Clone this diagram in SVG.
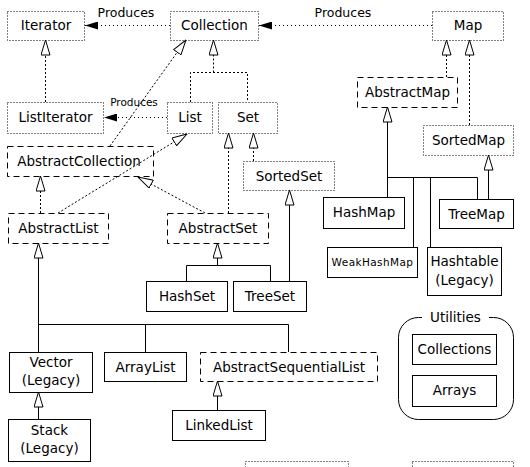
<svg xmlns="http://www.w3.org/2000/svg" width="530" height="467" viewBox="0 0 530 467">
<style>
  text { font-family: "DejaVu Sans", "Liberation Sans", sans-serif; font-size: 13.5px; fill: #000; text-anchor: middle; }
  text.lbl { font-size: 12.5px; }
  text.sm { font-size: 10.5px; }
  text.wk { letter-spacing: 0.4px; }
  rect.n { fill: none; stroke: #000; stroke-width: 1; }
  rect.dot { stroke-dasharray: 1 2; }
  rect.dash { stroke-dasharray: 6 4; }
  .c { fill: none; stroke: #000; stroke-width: 1; }
  .cd { stroke-dasharray: 2 2; }
  .cp { stroke-dasharray: 1 3; }
</style>
<defs>
  <marker id="tri" viewBox="0 0 16 10" refX="15.5" refY="5" markerUnits="userSpaceOnUse" markerWidth="16" markerHeight="10" orient="auto">
    <path d="M0.5,0.5 L15.5,5 L0.5,9.5 Z" fill="#fff" stroke="#000" stroke-width="1"/>
  </marker>
  <marker id="fill" viewBox="0 0 13 8" refX="13" refY="4" markerUnits="userSpaceOnUse" markerWidth="13" markerHeight="8" orient="auto">
    <path d="M0,0 L13,4 L0,8 Z" fill="#000"/>
  </marker>
</defs>
<rect width="530" height="467" fill="#fff"/>

<g id="connectors">
  <!-- Produces -->
  <line class="c cp" x1="170" y1="25.5" x2="85" y2="25.5" marker-end="url(#fill)"/>
  <line class="c cp" x1="432" y1="25.5" x2="259" y2="25.5" marker-end="url(#fill)"/>
  <line class="c cp" x1="167" y1="117.5" x2="104" y2="117.5" marker-end="url(#fill)"/>
  <!-- interfaces -->
  <line class="c cd" x1="45.5" y1="102" x2="45.5" y2="40" marker-end="url(#tri)"/>
  <polyline class="c cd" points="190.5,102 190.5,72.5 247.5,72.5 247.5,102"/>
  <line class="c cd" x1="213.5" y1="72.5" x2="213.5" y2="40" marker-end="url(#tri)"/>
  <line class="c cd" x1="110" y1="146" x2="186" y2="40" marker-end="url(#tri)"/>
  <line class="c cd" x1="58" y1="213" x2="187" y2="134" marker-end="url(#tri)"/>
  <line class="c cd" x1="40.5" y1="213" x2="40.5" y2="176" marker-end="url(#tri)"/>
  <line class="c cd" x1="205" y1="213" x2="138" y2="177" marker-end="url(#tri)"/>
  <line class="c cd" x1="228.5" y1="213" x2="228.5" y2="133" marker-end="url(#tri)"/>
  <line class="c cd" x1="253.5" y1="161" x2="253.5" y2="133" marker-end="url(#tri)"/>
  <line class="c cd" x1="446.5" y1="77" x2="446.5" y2="40" marker-end="url(#tri)"/>
  <line class="c cd" x1="469.5" y1="125" x2="469.5" y2="40" marker-end="url(#tri)"/>
  <!-- solid -->
  <polyline class="c" points="186.5,281 186.5,265.5 270.5,265.5 270.5,281"/>
  <line class="c" x1="217.5" y1="265.5" x2="217.5" y2="243" marker-end="url(#tri)"/>
  <line class="c" x1="289.5" y1="281" x2="289.5" y2="190" marker-end="url(#tri)"/>
  <line class="c" x1="387.5" y1="197" x2="387.5" y2="107" marker-end="url(#tri)"/>
  <line class="c" x1="387.5" y1="177.5" x2="477.5" y2="177.5"/>
  <line class="c" x1="413.5" y1="177.5" x2="413.5" y2="247"/>
  <line class="c" x1="430.5" y1="177.5" x2="430.5" y2="247"/>
  <line class="c" x1="477.5" y1="177.5" x2="477.5" y2="199"/>
  <line class="c" x1="488.5" y1="199" x2="488.5" y2="155" marker-end="url(#tri)"/>
  <line class="c" x1="38.5" y1="352" x2="38.5" y2="243" marker-end="url(#tri)"/>
  <line class="c" x1="38.5" y1="324.5" x2="288.5" y2="324.5"/>
  <line class="c" x1="145.5" y1="324.5" x2="145.5" y2="352"/>
  <line class="c" x1="288.5" y1="324.5" x2="288.5" y2="352"/>
  <line class="c" x1="38.5" y1="419" x2="38.5" y2="392" marker-end="url(#tri)"/>
  <line class="c" x1="217.5" y1="410" x2="217.5" y2="381" marker-end="url(#tri)"/>
</g>

<g id="labels">
  <text class="lbl" x="126" y="16.5">Produces</text>
  <text class="lbl" x="343" y="16.5">Produces</text>
  <text class="sm" x="134" y="106">Produces</text>
</g>

<g id="Iterator"><rect class="n dot" x="7.5" y="11.5" width="77" height="29"/><text x="46" y="30">Iterator</text></g>
<g id="Collection"><rect class="n dot" x="170.5" y="11.5" width="88" height="29"/><text x="214.5" y="30">Collection</text></g>
<g id="Map"><rect class="n dot" x="432.5" y="11.5" width="71" height="29"/><text x="468" y="30">Map</text></g>
<g id="ListIterator"><rect class="n dot" x="7.5" y="102.5" width="96" height="31"/><text x="55.5" y="122">ListIterator</text></g>
<g id="List"><rect class="n dot" x="167.5" y="102.5" width="45" height="31"/><text x="190" y="122">List</text></g>
<g id="Set"><rect class="n dot" x="218.5" y="102.5" width="59" height="31"/><text x="248" y="122">Set</text></g>
<g id="AbstractMap"><rect class="n dash" x="357.5" y="77.5" width="100" height="30"/><text x="407.5" y="97">AbstractMap</text></g>
<g id="SortedMap"><rect class="n dot" x="423.5" y="125.5" width="90" height="30"/><text x="468.5" y="145">SortedMap</text></g>
<g id="AbstractCollection"><rect class="n dash" x="7.5" y="146.5" width="146" height="30"/><text x="79" y="166">AbstractCollection</text></g>
<g id="SortedSet"><rect class="n dot" x="243.5" y="161.5" width="91" height="29"/><text x="289" y="180.5">SortedSet</text></g>
<g id="AbstractList"><rect class="n dash" x="8.5" y="213.5" width="100" height="30"/><text x="58.5" y="233">AbstractList</text></g>
<g id="AbstractSet"><rect class="n dash" x="167.5" y="213.5" width="101" height="30"/><text x="218" y="233">AbstractSet</text></g>
<g id="HashMap"><rect class="n" x="323.5" y="197.5" width="81" height="31"/><text x="364" y="217">HashMap</text></g>
<g id="TreeMap"><rect class="n" x="439.5" y="199.5" width="74" height="29"/><text x="476.5" y="218.5">TreeMap</text></g>
<g id="WeakHashMap"><rect class="n" x="327.5" y="247.5" width="90" height="30"/><text class="sm wk" x="372.5" y="266">WeakHashMap</text></g>
<g id="Hashtable"><rect class="n" x="427.5" y="247.5" width="74" height="48"/><text x="464.5" y="266">Hashtable</text><text x="464.5" y="284.5">(Legacy)</text></g>
<g id="HashSet"><rect class="n" x="146.5" y="281.5" width="81" height="30"/><text x="187" y="301">HashSet</text></g>
<g id="TreeSet"><rect class="n" x="233.5" y="281.5" width="73" height="30"/><text x="270" y="301">TreeSet</text></g>
<g id="Vector"><rect class="n" x="9.5" y="352.5" width="83" height="40"/><text x="51" y="367">Vector</text><text x="51" y="385">(Legacy)</text></g>
<g id="ArrayList"><rect class="n" x="104.5" y="352.5" width="82" height="29"/><text x="145.5" y="371.5">ArrayList</text></g>
<g id="AbstractSequentialList"><rect class="n dash" x="200.5" y="352.5" width="177" height="29"/><text x="289" y="371.5">AbstractSequentialList</text></g>
<g id="Stack"><rect class="n" x="8.5" y="419.5" width="82" height="42"/><text x="49.5" y="435">Stack</text><text x="49.5" y="453">(Legacy)</text></g>
<g id="LinkedList"><rect class="n" x="172.5" y="410.5" width="93" height="30"/><text x="219" y="430">LinkedList</text></g>
<g id="Utilities">
  <rect x="398.5" y="317.5" width="115" height="102" rx="20" ry="20" fill="#fff" stroke="#000"/>
  <rect x="422" y="312" width="67" height="12" fill="#fff"/>
  <text x="455.5" y="322">Utilities</text>
</g>
<g id="Collections"><rect class="n" x="412.5" y="334.5" width="84" height="30"/><text x="454.5" y="354">Collections</text></g>
<g id="Arrays"><rect class="n" x="412.5" y="375.5" width="84" height="31"/><text x="454.5" y="395">Arrays</text></g>
<g id="partial1"><rect class="n dot" x="245.5" y="461.5" width="103" height="20"/></g>
<g id="partial2"><rect class="n dot" x="412.5" y="461.5" width="101" height="20"/></g>
</svg>
